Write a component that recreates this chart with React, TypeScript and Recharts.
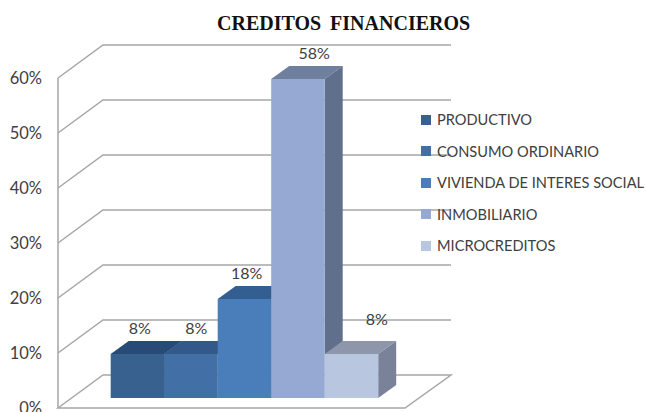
import { Bar, BarChart, CartesianGrid, LabelList, Legend, XAxis, YAxis } from "recharts";

const seriesNames = [
  "PRODUCTIVO",
  "CONSUMO ORDINARIO",
  "VIVIENDA DE INTERES SOCIAL",
  "INMOBILIARIO",
  "MICROCREDITOS",
];
const seriesValues = [8, 8, 18, 58, 8];
const yTicks = [0, 10, 20, 30, 40, 50, 60];

const frontColors = ["#38618f", "#426fa6", "#4a7ebb", "#95a9d2", "#b9c6e0"];
const topColors = ["#284a76", "#33598a", "#335e92", "#6f7f9e", "#8e96ab"];
const sideColors = ["#2b4d78", "#335a8a", "#3a6497", "#5f6f8c", "#7a8299"];
const labelDx = [15, 18, 15, 29, 38];
const labelDy = [-37, -37, -37, -37, -46];

const row: Record<string, number | string> = { name: "CREDITOS FINANCIEROS" };
seriesNames.forEach((name, i) => {
  row[name] = seriesValues[i];
});
const data = [row];

// 3d look: how far the back wall sits from the front plane
const WALL_DX = 45;
const WALL_DY = -33;
// bars stand on the middle of the floor, depth of the bar itself
const FLOOR_DX = 12.7;
const FLOOR_DY = -10;
const BAR_DX = 18;
const BAR_DY = -13;
const PLOT_BOTTOM = 408;
const GRID_COLOR = "#a6a6a6";

function gridLine(props: any) {
  const { x1, x2, y1, index } = props;
  const backLeft = x1 + WALL_DX;
  const backRight = x2 + WALL_DX + 1;
  const backY = y1 + WALL_DY;
  const d =
    y1 >= PLOT_BOTTOM
      ? `M${x1},${y1} L${backLeft},${backY} L${backRight},${backY} L${x2},${y1} Z`
      : `M${x1},${y1} L${backLeft},${backY} L${backRight},${backY}`;
  return <path key={index} d={d} fill="none" stroke={GRID_COLOR} strokeWidth={1.5} />;
}

function bar3d(i: number) {
  return (props: any) => {
    const x = props.x + FLOOR_DX;
    const y = props.y + FLOOR_DY;
    const w = props.width;
    const h = props.height;
    return (
      <g>
        <path
          d={`M${x},${y} L${x + BAR_DX},${y + BAR_DY} L${x + w + BAR_DX},${y + BAR_DY} L${x + w},${y} Z`}
          fill={topColors[i]}
        />
        <path
          d={`M${x + w},${y} L${x + w + BAR_DX},${y + BAR_DY} L${x + w + BAR_DX},${y + h + BAR_DY} L${x + w},${y + h} Z`}
          fill={sideColors[i]}
        />
        <rect x={x} y={y} width={w} height={h} fill={frontColors[i]} />
      </g>
    );
  };
}

function barLabel(i: number) {
  return (props: any) => (
    <text
      x={props.x + props.width / 2 + labelDx[i]}
      y={props.y + labelDy[i]}
      textAnchor="middle"
      dominantBaseline="central"
      fontFamily="Lato"
      fontSize={16}
      fill="#404040"
    >
      {`${props.value}%`}
    </text>
  );
}

function LegendList() {
  return (
    <div style={{ fontFamily: "Lato", fontSize: 14.6, color: "#404040" }}>
      {seriesNames.map((name, i) => (
        <div key={name} style={{ display: "flex", alignItems: "center", height: 31.5, whiteSpace: "nowrap" }}>
          <span style={{ width: 10, height: 10, flexShrink: 0, background: frontColors[i], marginRight: 6 }} />
          {name}
        </div>
      ))}
    </div>
  );
}

export default function App() {
  return (
    <div style={{ position: "absolute", left: 0, top: 0, width: 646, height: 412, background: "#fff" }}>
      <div
        style={{
          position: "absolute",
          left: 217,
          top: 12,
          fontFamily: "Liberation Serif",
          fontWeight: "bold",
          fontSize: 20,
          color: "#111",
          whiteSpace: "nowrap",
          wordSpacing: 4,
        }}
      >
        CREDITOS FINANCIEROS
      </div>
      <BarChart
        width={646}
        height={412}
        data={data}
        barSize={53.5}
        barGap={0}
        margin={{ top: 78, right: 241, bottom: 4, left: 0 }}
      >
        <CartesianGrid vertical={false} horizontal={gridLine} />
        <XAxis dataKey="name" hide />
        <YAxis
          width={58}
          domain={[0, 60]}
          ticks={yTicks}
          interval={0}
          tickFormatter={(v) => `${v}%`}
          tickLine={false}
          tickMargin={10}
          axisLine={{ stroke: GRID_COLOR, strokeWidth: 1.5 }}
          tick={{ fontFamily: "Lato", fontSize: 16.5, fill: "#404040" }}
        />
        <Legend
          layout="vertical"
          align="center"
          verticalAlign="middle"
          itemSorter={null}
          content={<LegendList />}
          wrapperStyle={{ left: 421, top: 104, width: 225 }}
        />
        {seriesNames.map((name, i) => (
          <Bar key={name} dataKey={name} fill={frontColors[i]} shape={bar3d(i)} isAnimationActive={false}>
            <LabelList dataKey={name} content={barLabel(i)} />
          </Bar>
        ))}
      </BarChart>
    </div>
  );
}
